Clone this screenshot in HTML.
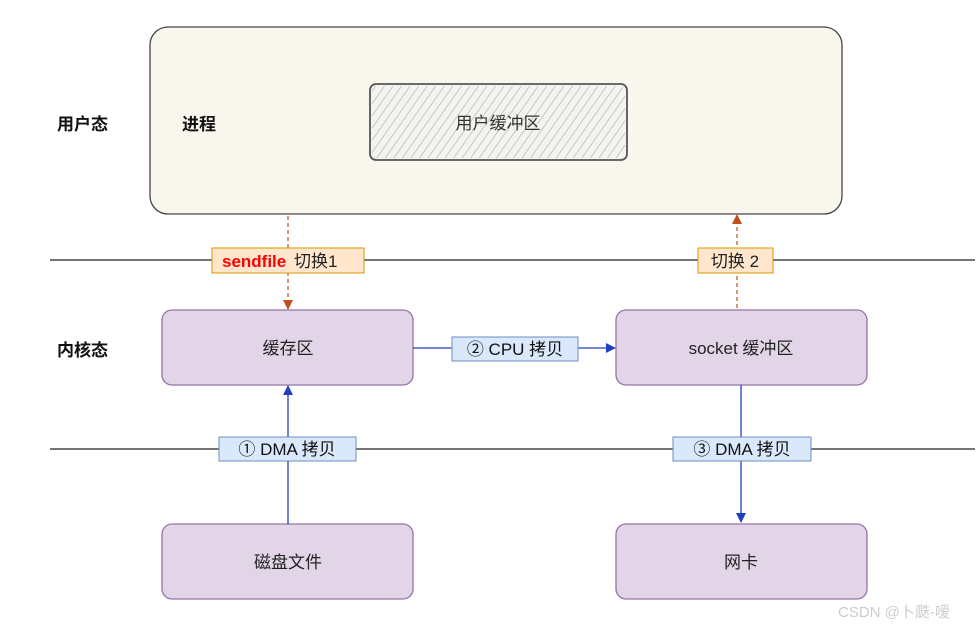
<!DOCTYPE html>
<html><head><meta charset="utf-8"><style>
html,body{margin:0;padding:0;background:#fff;width:980px;height:630px;overflow:hidden}
text{font-family:"Liberation Sans","Noto Sans CJK SC",sans-serif}
</style></head><body>
<svg width="980" height="630" viewBox="0 0 980 630" xmlns="http://www.w3.org/2000/svg">
<defs>
<pattern id="h" width="7" height="7" patternUnits="userSpaceOnUse" patternTransform="rotate(35)">
<line x1="0" y1="0" x2="0" y2="7" stroke="#888" stroke-width="0.8"/>
</pattern>
</defs>
<line x1="50" y1="260" x2="975" y2="260" stroke="#222" stroke-width="1.2"/>
<line x1="50" y1="449" x2="975" y2="449" stroke="#222" stroke-width="1.2"/>
<rect x="150" y="27" width="692" height="187" rx="18" fill="#f9f7ed" stroke="#444" stroke-width="1.3"/>
<rect x="370" y="84" width="257" height="76" rx="6" fill="#f3f3f0" stroke="#555" stroke-width="1.8"/>
<rect x="372" y="86" width="253" height="72" rx="5" fill="url(#h)"/>
<text x="498" y="129" font-size="17" fill="#333" text-anchor="middle">用户缓冲区</text>
<text x="57" y="130" font-size="17" font-weight="bold" fill="#111">用户态</text>
<text x="182" y="130" font-size="17" font-weight="bold" fill="#111">进程</text>
<text x="57" y="356" font-size="17" font-weight="bold" fill="#111">内核态</text>
<g fill="#e1d5e7" stroke="#9673a6" stroke-width="1.3">
<rect x="162" y="310" width="251" height="75" rx="10"/>
<rect x="616" y="310" width="251" height="75" rx="10"/>
<rect x="162" y="524" width="251" height="75" rx="10"/>
<rect x="616" y="524" width="251" height="75" rx="10"/>
</g>
<g font-size="17" fill="#222" text-anchor="middle">
<text x="288" y="354">缓存区</text>
<text x="741" y="354">socket 缓冲区</text>
<text x="288" y="568">磁盘文件</text>
<text x="741" y="568">网卡</text>
</g>
<g stroke="#c0501a" stroke-width="1.2" stroke-dasharray="4,3">
<line x1="288" y1="216" x2="288" y2="303"/>
<line x1="737" y1="308" x2="737" y2="222"/>
</g>
<polygon points="283,300 293,300 288,310" fill="#c0501a"/>
<polygon points="732,224 742,224 737,214" fill="#c0501a"/>
<g stroke="#2040c0" stroke-width="1.3">
<line x1="413" y1="348" x2="608" y2="348"/>
<line x1="288" y1="524" x2="288" y2="393"/>
<line x1="741" y1="385" x2="741" y2="514"/>
</g>
<polygon points="606,343 616,348 606,353" fill="#2040c0"/>
<polygon points="283,395 293,395 288,385" fill="#2040c0"/>
<polygon points="736,513 746,513 741,523" fill="#2040c0"/>
<rect x="212" y="248" width="152" height="25" fill="#ffe6cc" stroke="#d79b00"/>
<text x="222" y="267" font-size="17" font-weight="bold" fill="#f00">sendfile</text>
<text x="294" y="267" font-size="17" fill="#222">切换1</text>
<rect x="698" y="248" width="75" height="25" fill="#ffe6cc" stroke="#d79b00"/>
<text x="735" y="267" font-size="17" fill="#222" text-anchor="middle">切换 2</text>
<g fill="#dae8fc" stroke="#6c8ebf">
<rect x="452" y="337" width="126" height="24"/>
<rect x="219" y="437" width="137" height="24"/>
<rect x="673" y="437" width="138" height="24"/>
</g>
<g font-size="17" fill="#111" text-anchor="middle">
<text x="515" y="355">② CPU 拷贝</text>
<text x="287" y="455">① DMA 拷贝</text>
<text x="742" y="455">③ DMA 拷贝</text>
</g>
<text x="838" y="617" font-size="15" fill="#ccc">CSDN @卜瓞-嗳</text>
</svg>
</body></html>
